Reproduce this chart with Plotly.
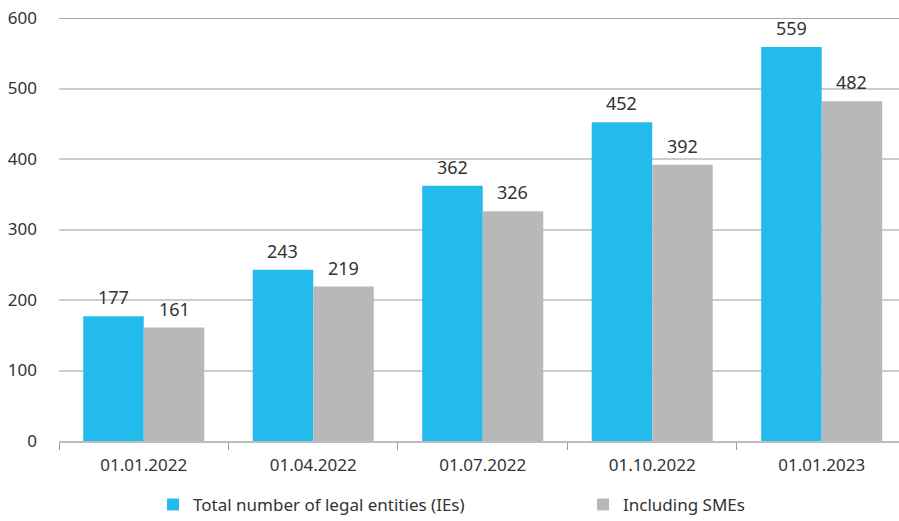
import plotly.graph_objects as go

categories = ["01.01.2022", "01.04.2022", "01.07.2022", "01.10.2022", "01.01.2023"]
total_ies = [177, 243, 362, 452, 559]
incl_smes = [161, 219, 326, 392, 482]
series_names = ["Total number of legal entities (IEs)", "Including SMEs"]
y_ticks = [0, 100, 200, 300, 400, 500, 600]

FONT = "Noto Sans"
TXT = "#333333"
FS = 17
BARGAP = 0.286
XRANGE = [-0.5, 4.456]
PLOT_W = 899 - 59
cat_px = PLOT_W / (XRANGE[1] - XRANGE[0])
half_bar = cat_px * (1 - BARGAP) / 4

fig = go.Figure()
fig.add_trace(go.Bar(
    x=categories, y=total_ies, name=series_names[0], legend="legend",
    marker=dict(color="#22BBEC", line=dict(width=0)),
))
fig.add_trace(go.Bar(
    x=categories, y=incl_smes, name=series_names[1], legend="legend2",
    marker=dict(color="#B8B8BA", line=dict(width=0)),
))

for vals, sh in ((total_ies, -half_bar), (incl_smes, half_bar)):
    for c, v in zip(categories, vals):
        fig.add_annotation(x=c, y=v, xref="x", yref="y", text=str(v), showarrow=False,
                           xshift=sh, yshift=5, yanchor="bottom",
                           font=dict(family=FONT, size=18, color=TXT))

legend_common = dict(orientation="h", yref="container", y=0.031, yanchor="middle",
                     xref="container", xanchor="left",
                     font=dict(family=FONT, size=FS, color=TXT),
                     itemwidth=30, bgcolor="rgba(0,0,0,0)")

fig.update_layout(
    width=899, height=521,
    margin=dict(l=59, r=0, t=18, b=80, autoexpand=False),
    paper_bgcolor="white", plot_bgcolor="white",
    barmode="group", bargap=BARGAP, bargroupgap=0,
    font=dict(family=FONT, size=FS, color=TXT),
    showlegend=True,
    legend=dict(x=153 / 899, **legend_common),
    legend2=dict(x=583 / 899, **legend_common),
)
fig.update_xaxes(
    type="category", range=XRANGE,
    showgrid=False, showline=True, linecolor="#BDBDBD", linewidth=1.5,
    ticks="outside", ticklen=7, tickcolor="#999999", tickson="boundaries",
    ticklabelstandoff=8,
    tickfont=dict(family=FONT, size=FS, color=TXT),
)
fig.update_yaxes(
    range=[0, 600], tickvals=y_ticks, showgrid=True, gridcolor="#CCCCCC", gridwidth=1.5,
    zeroline=False, showline=False, ticks="", ticklabelstandoff=21,
    tickfont=dict(family=FONT, size=FS, color=TXT),
)
fig.add_shape(type="line", xref="paper", yref="y", x0=0, x1=1, y0=600, y1=600,
              line=dict(color="#8C8C8C", width=1.5))

fig.write_html("out.html")
